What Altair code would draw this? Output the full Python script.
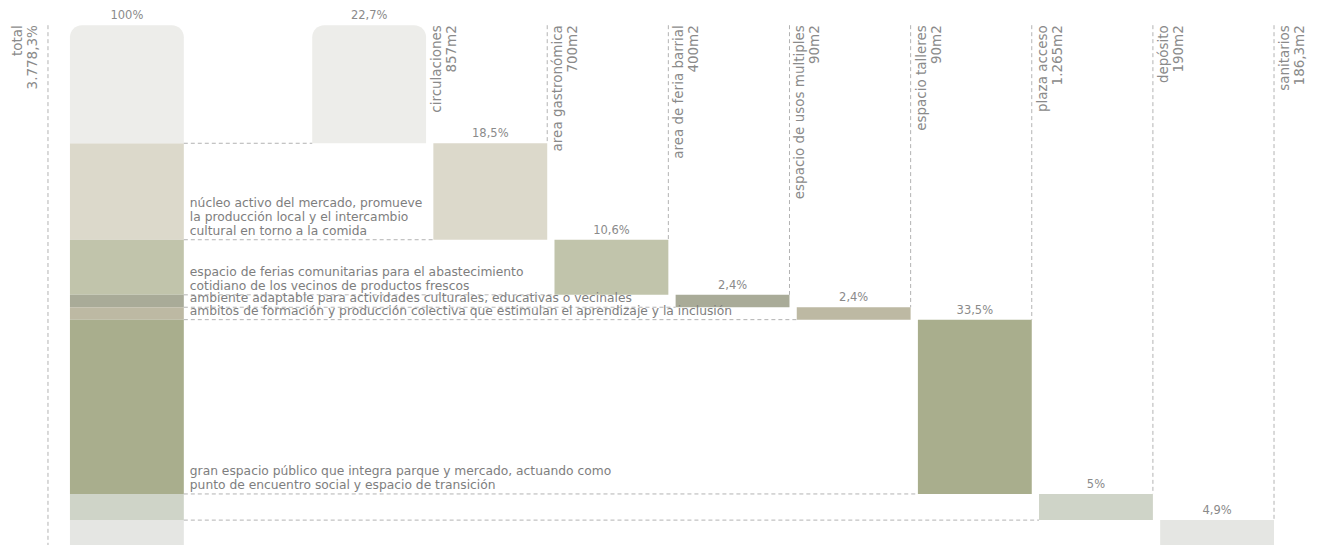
import altair as alt
import pandas as pd

# ---------------- data ----------------
categories = ["circulaciones", "area gastronómica", "area de feria barrial",
              "espacio de usos multiples", "espacio talleres", "plaza acceso",
              "depósito", "sanitarios"]
areas = [857, 700, 400, 90, 90, 1265, 190, 186.3]
area_labels = ["857m2", "700m2", "400m2", "90m2", "90m2", "1.265m2", "190m2", "186,3m2"]
pct_labels = ["22,7%", "18,5%", "10,6%", "2,4%", "2,4%", "33,5%", "5%", "4,9%"]
colors = ["#ededea", "#dcd9cb", "#c1c4ab", "#a9ab98", "#bdb9a3", "#a9ae8d", "#cfd4c8", "#e5e6e3"]
descriptions = [
    [],
    ["núcleo activo del mercado, promueve",
     "la producción local y el intercambio",
     "cultural en torno a la comida"],
    ["espacio de ferias comunitarias para el abastecimiento",
     "cotidiano de los vecinos de productos frescos"],
    ["ambiente adaptable para actividades culturales, educativas o vecinales"],
    ["ambitos de formación y producción colectiva que estimulan el aprendizaje y la inclusión"],
    ["gran espacio público que integra parque y mercado, actuando como",
     "punto de encuentro social y espacio de transición"],
    [],
    [],
]
total_name = "total"
total_value_label = "3.778,3%"
total_pct_label = "100%"
gap_slot = "gap"

# ---------------- derived tables ----------------
starts = [0.0]
for a in areas[:-1]:
    starts.append(starts[-1] + a)
ends = [s + a for s, a in zip(starts, areas)]
total = sum(areas)

df = pd.DataFrame({
    "cat": categories,
    "start": starts,
    "end": ends,
    "zero": 0.0,
    "pct": pct_labels,
    "label": [[c, a] for c, a in zip(categories, area_labels)],
    "col": categories,
    "tot": total_name,
})
df_total = df.assign(col=total_name)
df_pct = pd.DataFrame({
    "col": [total_name] + categories,
    "start": [0.0] + starts,
    "pct": [total_pct_label] + pct_labels,
})
df_total_label = pd.DataFrame({
    "col": [total_name],
    "zero": [0.0],
    "sum": [total],
    "label": [[total_name, total_value_label]],
})
line_rows = []
for cat, end, lines in zip(categories, ends, descriptions):
    n = len(lines)
    for i, t in enumerate(lines):
        line_rows.append({"cat": cat, "end": end, "text": t, "k": n - 1 - i, "tot": total_name})
df_lines = pd.DataFrame(line_rows)
max_lines = max(len(d) for d in descriptions)

FONT = "DejaVu Sans"
TXT = "#8a8a8a"
DASH = "#b3b3b3"
DESC_LH = 14

xscale = alt.Scale(type="band", domain=[total_name, gap_slot] + categories,
                   paddingInner=0.06, paddingOuter=0)
yscale = alt.Scale(domain=[0, total], reverse=True, nice=False, zero=False)
cscale = alt.Scale(domain=categories, range=colors)


def X(field, bp=None):
    if bp is None:
        return alt.X(field, scale=xscale, axis=None)
    return alt.X(field, scale=xscale, axis=None, bandPosition=bp)


def Y(field):
    return alt.Y(field, scale=yscale, axis=None)


def bars(data, rounded):
    m = alt.Chart(data).mark_bar(cornerRadiusTopLeft=12, cornerRadiusTopRight=12) if rounded \
        else alt.Chart(data).mark_bar()
    return m.encode(
        x=X("col:N"),
        y=Y("start:Q"),
        y2="end:Q",
        color=alt.Color("cat:N", scale=cscale, legend=None),
    )


first = categories[0]
layers = [
    bars(df_total[df_total.cat != first], False),
    bars(df_total[df_total.cat == first], True),
    bars(df[df.cat != first], False),
    bars(df[df.cat == first], True),
]

# vertical dashed guides at each bar's right edge
layers.append(
    alt.Chart(df[df.cat != first]).mark_rule(color=DASH, strokeDash=[4, 3], strokeWidth=1).encode(
        x=X("col:N", 1),
        y=Y("zero:Q"),
        y2="start:Q",
    )
)
# total guide to the left of the total column
layers.append(
    alt.Chart(df_total_label).mark_rule(color=DASH, strokeDash=[4, 3], strokeWidth=1, xOffset=-22).encode(
        x=X("col:N", 0),
        y=Y("zero:Q"),
        y2="sum:Q",
    )
)
# horizontal dashed connectors
layers.append(
    alt.Chart(df).mark_rule(color=DASH, strokeDash=[4, 3], strokeWidth=1).encode(
        x=X("tot:N", 1),
        x2=alt.X2("col:N", bandPosition=0),
        y=Y("end:Q"),
    )
)
# percent labels
layers.append(
    alt.Chart(df_pct).mark_text(font=FONT, fontSize=11.5, color=TXT, baseline="bottom", yOffset=-4).encode(
        x=X("col:N", 0.5),
        y=Y("start:Q"),
        text="pct:N",
    )
)
# rotated category labels
layers.append(
    alt.Chart(df).mark_text(font=FONT, fontSize=13.5, color=TXT, angle=270, align="right",
                            baseline="top", lineHeight=15, xOffset=4).encode(
        x=X("col:N", 1),
        y=Y("zero:Q"),
        text=alt.Text("label:N"),
    )
)
layers.append(
    alt.Chart(df_total_label).mark_text(font=FONT, fontSize=13.5, color=TXT, angle=270, align="right",
                                        baseline="top", lineHeight=15, xOffset=-59).encode(
        x=X("col:N", 0),
        y=Y("zero:Q"),
        text=alt.Text("label:N"),
    )
)
# descriptions, one layer per line position counted from the bottom line
for k in range(max_lines):
    sub = df_lines[df_lines.k == k]
    layers.append(
        alt.Chart(sub).mark_text(font=FONT, fontSize=12.3, color="#7e7e7e", align="left",
                                 baseline="bottom", xOffset=6, yOffset=-2 - DESC_LH * k).encode(
            x=X("tot:N", 1),
            y=Y("end:Q"),
            text=alt.Text("text:N"),
        )
    )

chart = alt.layer(*layers).properties(
    width=1205,
    height=521,
    autosize=alt.AutoSizeParams(type="none"),
    padding={"left": 62, "top": 17, "right": 40, "bottom": 0},
).configure_view(stroke=None)

chart.save("out.html", embed_options={"renderer": "svg", "actions": False})
